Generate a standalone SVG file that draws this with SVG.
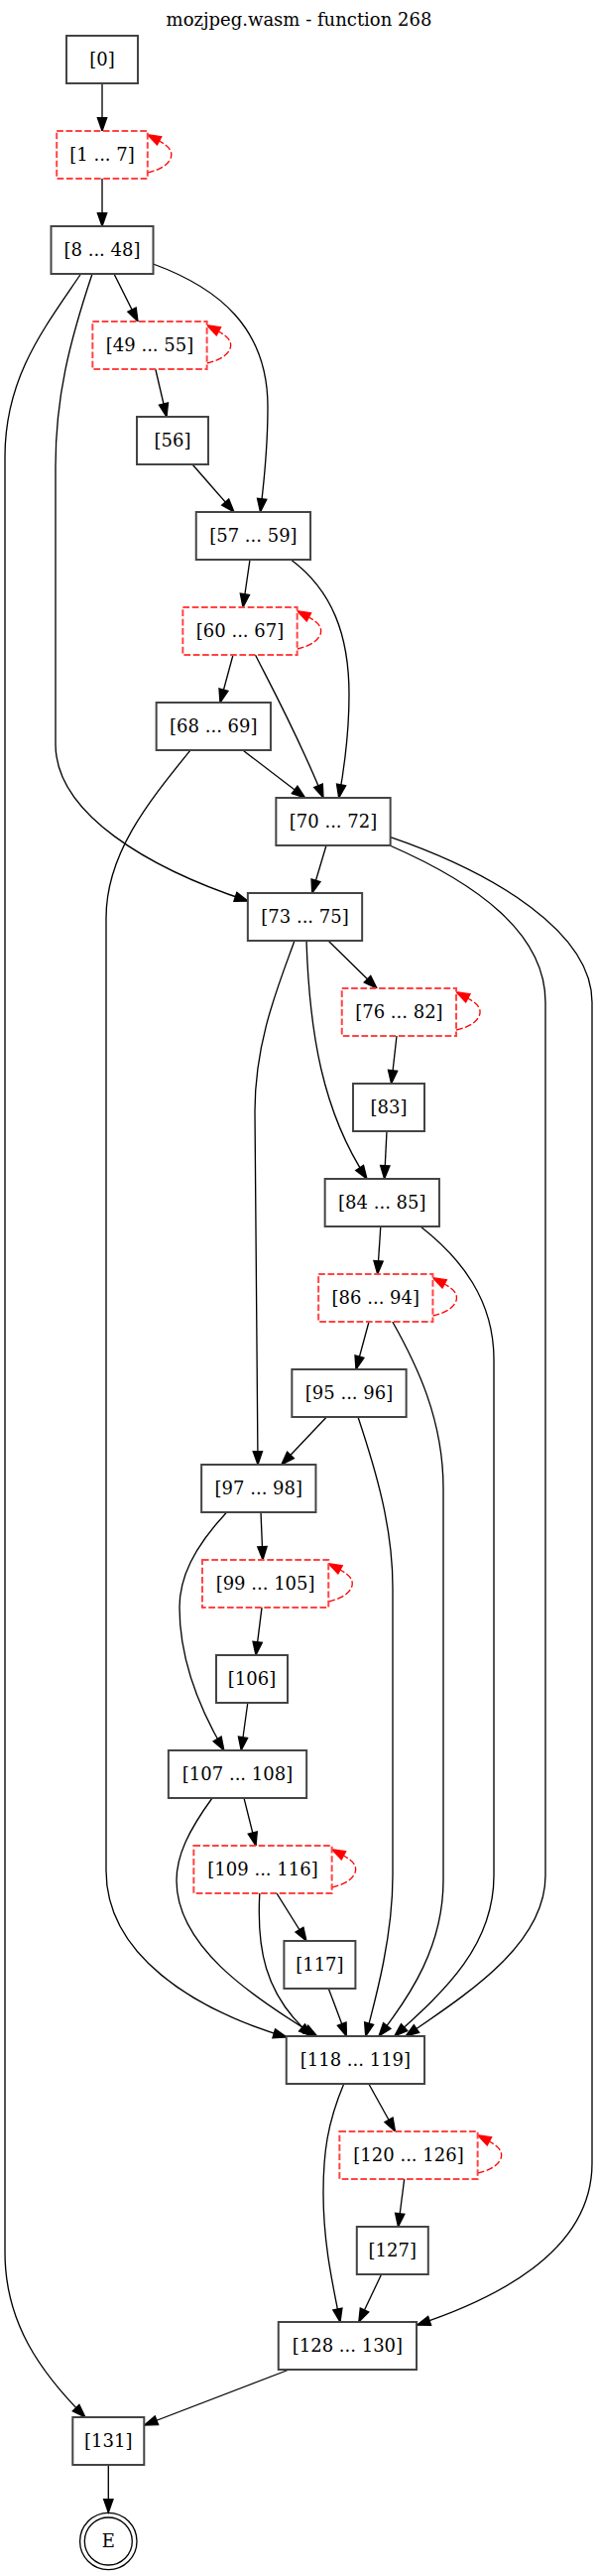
<svg xmlns="http://www.w3.org/2000/svg" width="603" height="2596" viewBox="0 0 603 2596">
<style>
text{font-family:"DejaVu Serif","Liberation Serif",serif;font-size:18px;fill:#000;text-anchor:middle}
.n rect{fill:#fff;stroke:#444;stroke-width:2}
.d rect{fill:#fff;stroke:#ff4444;stroke-width:2;stroke-dasharray:6.67,2.67}
.e path{fill:none;stroke:#000;stroke-width:1.33;marker-end:url(#ah)}
.e path.l{stroke:#ff0000;stroke-dasharray:6.67,2.67;marker-end:url(#ahr)}
</style>
<defs>
<marker id="ah" markerUnits="userSpaceOnUse" markerWidth="16" markerHeight="12" refX="13.33" refY="6" orient="auto" overflow="visible"><path d="M0,1.33 L13.33,6 L0,10.67 z" fill="#000" stroke="#000" stroke-width="1.33"/></marker>
<marker id="ahr" markerUnits="userSpaceOnUse" markerWidth="16" markerHeight="12" refX="13.33" refY="6" orient="auto" overflow="visible"><path d="M0,1.33 L13.33,6 L0,10.67 z" fill="#ff0000" stroke="#ff0000" stroke-width="1.33"/></marker>
</defs>
<rect width="603" height="2596" fill="#fff"/>
<text x="301.5" y="26">mozjpeg.wasm - function 268</text>
<g id="connectors" class="e">
<path d="M103,84 L103,132"/>
<path class="l" d="M148.8,174 C162.8,171 172.8,164 172.8,156 C172.8,148 164.8,144 148.8,135.7"/>
<path d="M103,180 L103,228"/>
<path d="M115,276 L139,324"/>
<path d="M154.4,266 C220,290 270,330 270,410 C270,450 267,480 262.5,516"/>
<path d="M81.5,276 C45,330 5,380 5,460 L5,2270 C5,2340 40,2390 86,2436"/>
<path d="M93,276 C70,345 56,400 56,470 L56,750 C56,820 150,875 250,908"/>
<path class="l" d="M208.65,366 C222.65,363 232.65,356 232.65,348 C232.65,340 224.65,336 208.65,327.7"/>
<path d="M156.8,372 L168,420"/>
<path d="M194,468 L236,516"/>
<path d="M252,564 L245,612"/>
<path d="M293.4,564 C335,595 352,640 352,700 C352,740 347,775 341.7,804"/>
<path class="l" d="M299.65,654 C313.65,651 323.65,644 323.65,636 C323.65,628 315.65,624 299.65,615.7"/>
<path d="M235,660 L222,708"/>
<path d="M257.5,660 C270,685 300,740 326,804"/>
<path d="M244.8,756 L307.7,804"/>
<path d="M192,756 C150,808 107,860 107,925 L107,1885 C107,1970 195,2025 289,2053"/>
<path d="M329,852 L314.7,900"/>
<path d="M393,852 C480,890 550,940 550,1010 L550,1890 C550,1960 470,2010 409,2052"/>
<path d="M393,843.3 C500,880 597,940 597,1010 L597,2180 C597,2260 520,2310 420.5,2343"/>
<path d="M331,948 L380,996"/>
<path d="M309,948 C312,1040 325,1120 370,1188"/>
<path d="M297,948 C280,995 257,1050 257,1120 L260,1476"/>
<path class="l" d="M460.05,1038 C474.050,1035 484.05,1028 484.05,1020 C484.05,1012 476.05,1008 460.05,999.7"/>
<path d="M400,1044 L394.6,1092"/>
<path d="M390,1140 L387.6,1188"/>
<path d="M383.8,1236 L380.7,1284"/>
<path d="M424,1236 C465,1268 498,1310 498,1370 L498,1890 C498,1960 450,2005 397.7,2052"/>
<path class="l" d="M436.45,1326 C450.45,1323 460.45,1316 460.45,1308 C460.45,1300 452.45,1296 436.45,1287.7"/>
<path d="M372,1332 L359,1380"/>
<path d="M395.8,1332 C420,1375 447,1430 447,1500 L447,1895 C447,1960 415,2010 382,2052"/>
<path d="M329.3,1428 L283.8,1476"/>
<path d="M361,1428 C380,1485 396,1540 396,1600 L396,1890 C396,1950 380,2010 368.7,2052"/>
<path d="M263,1524 L265,1572"/>
<path d="M228.6,1524 C195,1560 181,1590 181,1620 C181,1670 200,1720 225.9,1764"/>
<path class="l" d="M331.25,1614 C345.25,1611 355.25,1604 355.25,1596 C355.25,1588 347.25,1584 331.25,1575.7"/>
<path d="M264,1620 L258,1668"/>
<path d="M249.8,1716 L243.2,1764"/>
<path d="M246,1812 L258,1860"/>
<path d="M214,1812 C190,1845 178,1870 178,1895 C178,1960 250,2010 319.7,2052"/>
<path class="l" d="M334.65,1902 C348.65,1899 358.65,1892 358.65,1884 C358.65,1876 350.65,1872 334.65,1863.7"/>
<path d="M279,1908 L309,1956"/>
<path d="M261.8,1908 C259,1960 265,2010 314.7,2052"/>
<path d="M331.3,2004 L349.4,2052"/>
<path d="M371.8,2100 L398.5,2148"/>
<path d="M346.7,2100 C330,2140 326,2170 326,2210 C326,2260 335,2300 343,2340"/>
<path class="l" d="M481.65,2190 C495.65,2187 505.65,2180 505.65,2172 C505.65,2164 497.65,2160 481.65,2151.7"/>
<path d="M407.7,2196 L401.5,2244"/>
<path d="M384.6,2292 L361.8,2340"/>
<path d="M291.5,2388 L145.5,2444"/>
<path d="M109.3,2484 L109.3,2532"/>
</g>
<g id="n0" class="n"><rect x="67" y="36" width="72" height="48"/><text x="103" y="66">[0]</text></g>
<g id="n1" class="d"><rect x="57.2" y="132" width="91.6" height="48"/><text x="103" y="162">[1 ... 7]</text></g>
<g id="n8" class="n"><rect x="51.5" y="228" width="103" height="48"/><text x="103" y="258">[8 ... 48]</text></g>
<g id="n49" class="d"><rect x="93.35" y="324" width="115.3" height="48"/><text x="151" y="354">[49 ... 55]</text></g>
<g id="n56" class="n"><rect x="138" y="420" width="72" height="48"/><text x="174" y="450">[56]</text></g>
<g id="n57" class="n"><rect x="197.75" y="516" width="115.3" height="48"/><text x="255.4" y="546">[57 ... 59]</text></g>
<g id="n60" class="d"><rect x="184.35" y="612" width="115.3" height="48"/><text x="242" y="642">[60 ... 67]</text></g>
<g id="n68" class="n"><rect x="157.65" y="708" width="115.3" height="48"/><text x="215.3" y="738">[68 ... 69]</text></g>
<g id="n70" class="n"><rect x="278.35" y="804" width="115.3" height="48"/><text x="336" y="834">[70 ... 72]</text></g>
<g id="n73" class="n"><rect x="249.85" y="900" width="115.3" height="48"/><text x="307.5" y="930">[73 ... 75]</text></g>
<g id="n76" class="d"><rect x="344.75" y="996" width="115.3" height="48"/><text x="402.4" y="1026">[76 ... 82]</text></g>
<g id="n83" class="n"><rect x="356" y="1092" width="72" height="48"/><text x="392" y="1122">[83]</text></g>
<g id="n84" class="n"><rect x="327.65" y="1188" width="115.3" height="48"/><text x="385.3" y="1218">[84 ... 85]</text></g>
<g id="n86" class="d"><rect x="321.15" y="1284" width="115.3" height="48"/><text x="378.8" y="1314">[86 ... 94]</text></g>
<g id="n95" class="n"><rect x="294.35" y="1380" width="115.3" height="48"/><text x="352" y="1410">[95 ... 96]</text></g>
<g id="n97" class="n"><rect x="203.15" y="1476" width="115.3" height="48"/><text x="260.8" y="1506">[97 ... 98]</text></g>
<g id="n99" class="d"><rect x="203.95" y="1572" width="127.3" height="48"/><text x="267.6" y="1602">[99 ... 105]</text></g>
<g id="n106" class="n"><rect x="218" y="1668" width="72" height="48"/><text x="254" y="1698">[106]</text></g>
<g id="n107" class="n"><rect x="169.85" y="1764" width="139.3" height="48"/><text x="239.5" y="1794">[107 ... 108]</text></g>
<g id="n109" class="d"><rect x="195.35" y="1860" width="139.3" height="48"/><text x="265" y="1890">[109 ... 116]</text></g>
<g id="n117" class="n"><rect x="286.4" y="1956" width="72" height="48"/><text x="322.4" y="1986">[117]</text></g>
<g id="n118" class="n"><rect x="288.75" y="2052" width="139.3" height="48"/><text x="358.4" y="2082">[118 ... 119]</text></g>
<g id="n120" class="d"><rect x="342.35" y="2148" width="139.3" height="48"/><text x="412" y="2178">[120 ... 126]</text></g>
<g id="n127" class="n"><rect x="359.8" y="2244" width="72" height="48"/><text x="395.8" y="2274">[127]</text></g>
<g id="n128" class="n"><rect x="280.75" y="2340" width="139.3" height="48"/><text x="350.4" y="2370">[128 ... 130]</text></g>
<g id="n131" class="n"><rect x="73.3" y="2436" width="72" height="48"/><text x="109.3" y="2466">[131]</text></g>
<g id="nE"><circle cx="109.3" cy="2561" r="24" fill="#fff" stroke="#000" stroke-width="1.33"/><circle cx="109.3" cy="2561" r="28.7" fill="none" stroke="#000" stroke-width="1.33"/><text x="109.3" y="2567">E</text></g>
</svg>
